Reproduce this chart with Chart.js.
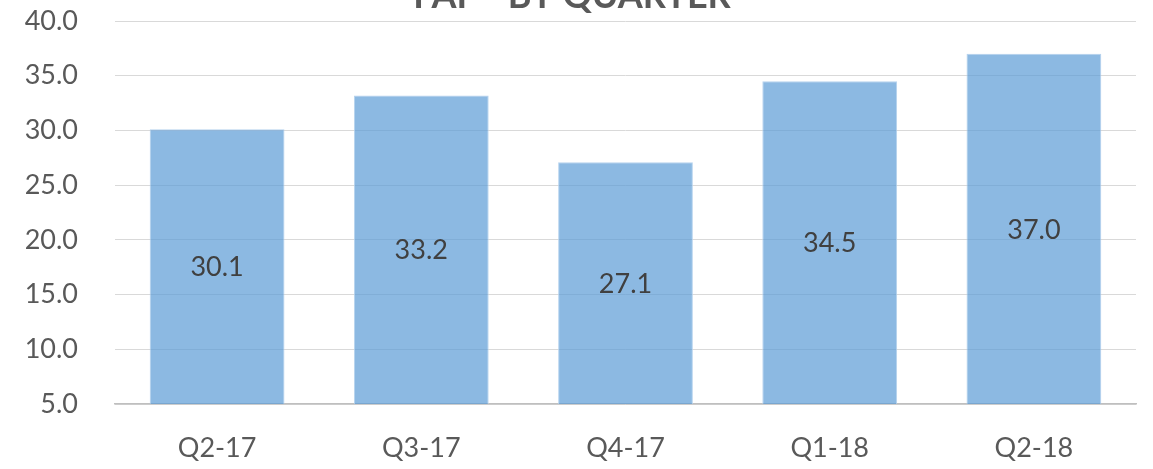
<!DOCTYPE html>
<html>
<head>
<meta charset="utf-8">
<script src="https://cdn.jsdelivr.net/npm/chart.js@4"></script>
<style>
    html, body { margin: 0; padding: 0; background: #fff; }
    #wrap { position: relative; width: 1153px; height: 469px; }
</style>
</head>
<body>
<div id="wrap"><canvas id="fafChart"></canvas></div>
<script>
// Chart data
const quarters = ['Q2-17', 'Q3-17', 'Q4-17', 'Q1-18', 'Q2-18'];
const fafValues = [30.1, 33.2, 27.1, 34.5, 37.0];
const axisMin = 5;
const axisMax = 40;
const axisStep = 5;
const chartTitle = 'FAF - BY QUARTER';

// Title sits mostly above the visible area, only its lower half shows
const titlePlugin = {
    id: 'cutTitle',
    afterDraw(chart) {
        const ctx = chart.ctx;
        ctx.save();
        ctx.font = 'bold 36px Lato';
        ctx.fillStyle = '#595959';
        ctx.textAlign = 'center';
        ctx.textBaseline = 'alphabetic';
        ctx.fillText(chartTitle, 572, 8);
        ctx.restore();
    }
};

// Value labels in the middle of the visible part of each bar
const valueLabels = {
    id: 'valueLabels',
    afterDatasetsDraw(chart) {
        const ctx = chart.ctx;
        const meta = chart.getDatasetMeta(0);
        const bottom = chart.chartArea.bottom;
        ctx.save();
        ctx.font = '27px Lato';
        ctx.fillStyle = '#404040';
        ctx.textAlign = 'center';
        ctx.textBaseline = 'middle';
        meta.data.forEach(function(bar, i) {
            const p = bar.getProps(['x', 'y', 'base'], true);
            const base = Math.min(p.base, bottom);
            ctx.fillText(fafValues[i].toFixed(1), p.x, (p.y + base) / 2 + 1);
        });
        ctx.restore();
    }
};

document.addEventListener('DOMContentLoaded', function() {
    const ctx = document.getElementById('fafChart').getContext('2d');
    new Chart(ctx, {
        type: 'bar',
        data: {
            labels: quarters,
            datasets: [{
                label: 'FAF',
                data: fafValues,
                backgroundColor: 'rgba(91, 155, 213, 0.7)',
                borderColor: 'rgba(175, 206, 236, 0.9)',
                borderWidth: 1,
                categoryPercentage: 1,
                barPercentage: 0.66
            }]
        },
        options: {
            responsive: true,
            maintainAspectRatio: false,
            animation: false,
            layout: {
                padding: { top: 21, right: 17, bottom: 0, left: 0 }
            },
            plugins: {
                legend: { display: false },
                title: { display: false },
                tooltip: { enabled: false }
            },
            scales: {
                x: {
                    grid: { display: false, drawTicks: false },
                    border: { color: '#bfbfbf', width: 1.5 },
                    ticks: {
                        color: '#595959',
                        font: { family: 'Lato', size: 27 },
                        padding: 28
                    },
                    afterFit: function(scale) { scale.height = 65; }
                },
                y: {
                    min: axisMin,
                    max: axisMax,
                    grid: { color: '#d9d9d9', lineWidth: 1, drawTicks: false },
                    border: { display: false },
                    ticks: {
                        stepSize: axisStep,
                        color: '#595959',
                        font: { family: 'Lato', size: 27 },
                        padding: 37,
                        callback: function(v) { return Number(v).toFixed(1); }
                    },
                    afterFit: function(scale) {
                        scale.width = 115;
                        scale.paddingTop = 0;
                        scale.paddingBottom = 0;
                    }
                }
            }
        },
        plugins: [titlePlugin, valueLabels]
    });
});
</script>
</body>
</html>
